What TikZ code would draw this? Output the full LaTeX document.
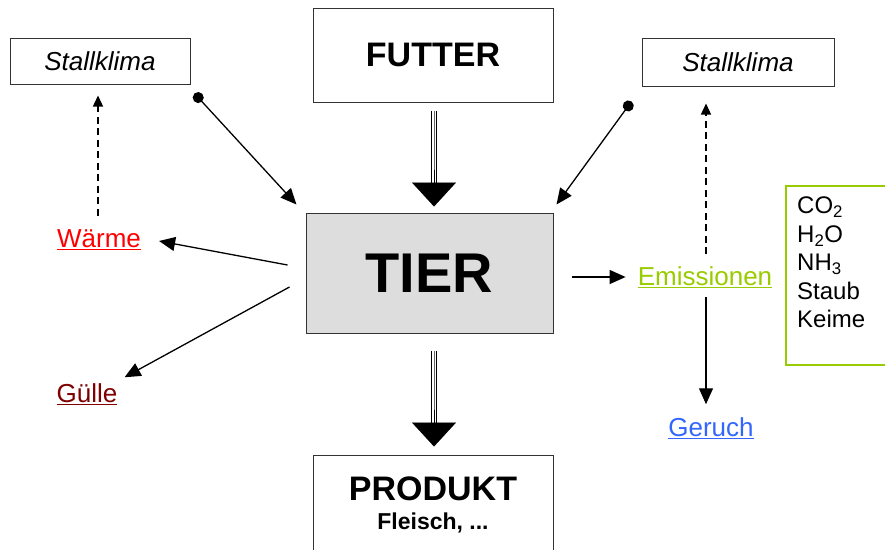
\documentclass[tikz,border=0pt]{standalone}
\usepackage{fontspec}
\setmainfont{Liberation Sans}
\usetikzlibrary{arrows.meta, positioning, calc}
\definecolor{waermered}{HTML}{FF0000}
\definecolor{guellered}{HTML}{800000}
\definecolor{emisgreen}{HTML}{99CC00}
\definecolor{geruchblue}{HTML}{3366FF}
\definecolor{tiergray}{HTML}{DDDDDD}
\definecolor{framegray}{HTML}{333333}

\begin{document}
\begin{tikzpicture}[
    x=1pt, y=-1pt,
    box/.style={draw=framegray, line width=1pt, inner sep=0pt, align=center},
    lbl/.style={font=\fontsize{26}{30}\selectfont, inner sep=2pt},
    conn/.style={line width=1.3pt, -{Triangle[length=16pt, width=14pt]}},
    dotconn/.style={conn, {Circle[length=11pt]}-{Triangle[length=16pt, width=14pt]}},
    dashconn/.style={line width=1.3pt, dash pattern=on 7pt off 4.5pt, -{Triangle[length=11pt, width=10pt]}},
    bigshaft/.style={line width=1.6pt, double=white, double distance=3.2pt},
    bighead/.style={line width=0.1pt, -{Triangle[length=24pt, width=44pt]}},
]
\useasboundingbox (0,0) rectangle (885,549);

% Boxes
\node[box, minimum width=180, minimum height=46, font=\fontsize{26}{30}\selectfont\itshape] (klimaL) at (100,61) {Stallklima};
\node[box, minimum width=240, minimum height=94, font=\fontsize{34}{40}\selectfont\bfseries] (futter) at (433,55) {FUTTER};
\node[box, minimum width=192, minimum height=48, font=\fontsize{26}{30}\selectfont\itshape] (klimaR) at (738,62) {Stallklima};
\node[box, fill=tiergray, minimum width=247, minimum height=120, font=\fontsize{56}{60}\selectfont\bfseries] (tier) at (429.5,273) {TIER};
\node[box, minimum width=240, minimum height=100, font=\fontsize{34}{29}\selectfont\bfseries] (produkt) at (433,505)
    {PRODUKT\\{\fontsize{23}{29}\selectfont\bfseries Fleisch, ...}};

% Emission box
\node[box, draw=emisgreen, line width=1.5pt, minimum width=100, minimum height=179] (gasbox) at (836,275.5) {};
\node[anchor=north west, inner sep=0pt, align=left, font=\fontsize{24}{28.5}\selectfont] (gases) at (797,197)
    {CO\textsubscript{2}\\H\textsubscript{2}O\\NH\textsubscript{3}\\Staub\\Keime};

% Labels
\node[lbl, text=waermered] (waerme) at (99,240) {\underline{Wärme}};
\node[lbl, text=guellered] (guelle) at (87,394) {\underline{Gülle}};
\node[lbl, text=emisgreen] (emis) at (705,277) {\underline{Emissionen}};
\node[lbl, text=geruchblue] (geruch) at (711,428) {\underline{Geruch}};

% Feed and product
\draw[bigshaft, shorten <=8pt, shorten >=22pt] (futter.south -| 434,0) -- (tier.north -| 434,0);
\draw[line width=0.6pt, black!60, shorten <=8pt, shorten >=22pt] (futter.south -| 434,0) -- (tier.north -| 434,0);
\draw[bighead, shorten >=6pt] (434,170) -- (tier.north -| 434,0);
\draw[bigshaft, shorten <=17pt, shorten >=30pt] (tier.south -| 434,0) -- (produkt.north -| 434,0);
\draw[line width=0.6pt, black!60, shorten <=17pt, shorten >=30pt] (tier.south -| 434,0) -- (produkt.north -| 434,0);
\draw[bighead, shorten >=8pt] (434,410) -- (produkt.north -| 434,0);

% Climate into the animal
\draw[dotconn] ($(klimaL.south east)+(4,9)$) -- ($(tier.north west)+(-9,-8)$);
\draw[dotconn] ($(klimaR.south west)+(-10,15)$) -- ($(tier.north east)+(3,-8)$);

% Outputs
\draw[conn] ($(tier.west)+(-18,-8)$) -- ($(waerme.east)+(16,1)$);
\draw[conn] ($(tier.west)+(-16,14)$) -- ($(guelle.north east)+(5,-4)$);
\draw[conn, shorten <=18pt, shorten >=10pt] (emis.west -| tier.east) -- (emis.west);
\draw[conn, shorten <=7pt, shorten >=11pt] (emis.south -| 706,0) -- (geruch.north -| 706,0);

% Back to the climate
\draw[dashconn, shorten <=12pt, shorten >=11pt] (waerme.north -| 98,0) -- (klimaL.south -| 98,0);
\draw[dashconn, shorten <=10pt, shorten >=17pt] (emis.north -| 706,0) -- (klimaR.south -| 706,0);

\end{tikzpicture}
\end{document}
